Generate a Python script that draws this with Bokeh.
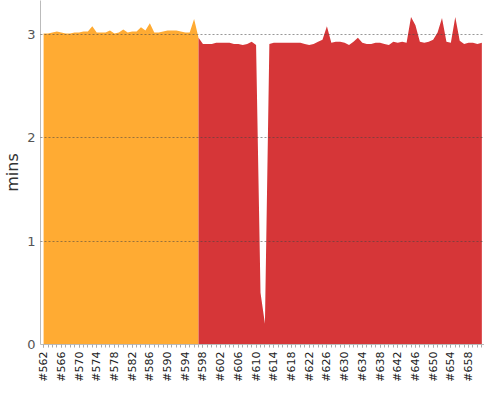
from bokeh.plotting import figure
from bokeh.models import Range1d, FixedTicker, PrintfTickFormatter
from bokeh.embed import file_html
from bokeh.resources import INLINE
import math

# builds #562 .. #597 (orange series)
orange_builds = list(range(562, 598))
orange_mins = [3.01, 3.01, 3.02, 3.03, 3.02, 3.01, 3.01, 3.02, 3.02, 3.03,
               3.03, 3.08, 3.02, 3.02, 3.02, 3.04, 3.01, 3.02, 3.05, 3.02,
               3.03, 3.03, 3.07, 3.04, 3.11, 3.02, 3.02, 3.03, 3.04, 3.04,
               3.04, 3.03, 3.02, 3.02, 3.15, 2.97]

# builds #597 .. #661 (red series)
red_builds = list(range(597, 662))
red_mins = [2.97, 2.91, 2.91, 2.91, 2.92, 2.92, 2.92, 2.92, 2.91, 2.91,
            2.90, 2.91, 2.93, 2.90, 0.50, 0.20, 2.91, 2.92, 2.92, 2.92,
            2.92, 2.92, 2.92, 2.92, 2.91, 2.90, 2.91, 2.93, 2.95, 3.08,
            2.92, 2.93, 2.93, 2.92, 2.90, 2.93, 2.97, 2.92, 2.91, 2.91,
            2.92, 2.92, 2.91, 2.90, 2.93, 2.92, 2.93, 2.92, 3.17, 3.09,
            2.93, 2.92, 2.93, 2.95, 3.02, 3.16, 2.93, 2.92, 3.17, 2.94,
            2.91, 2.92, 2.92, 2.91, 2.92]

major_ticks = list(range(562, 662, 4))
minor_ticks = list(range(562, 662))
y_ticks = [0, 1, 2, 3]

FONT = "DejaVu Sans"

p = figure(width=484, height=384, output_backend="svg", toolbar_location=None,
           x_range=Range1d(561.3, 661.6), y_range=Range1d(0, 3.33),
           min_border_top=0, min_border_right=0, min_border_left=0, min_border_bottom=0)
p.outline_line_color = None
p.background_fill_color = "white"
p.border_fill_color = "white"

p.varea(x=orange_builds, y1=0, y2=orange_mins, fill_color="#FFAB33")
p.varea(x=red_builds, y1=0, y2=red_mins, fill_color="#D63638")

p.xgrid.visible = False
p.ygrid.ticker = FixedTicker(ticks=[1, 2, 3])
p.ygrid.grid_line_color = "#444444"
p.ygrid.grid_line_alpha = 0.55
p.ygrid.grid_line_dash = "2 2"
p.ygrid.grid_line_width = 1
p.ygrid.level = "overlay"

xa = p.xaxis[0]
xa.ticker = FixedTicker(ticks=major_ticks, minor_ticks=minor_ticks)
xa.formatter = PrintfTickFormatter(format="#%d")
xa.major_label_orientation = math.pi / 2
xa.major_label_text_font = FONT
xa.major_label_text_font_size = "11px"
xa.major_label_text_color = "#222222"
xa.major_label_standoff = 4
xa.axis_line_color = "#bbbbbb"
xa.major_tick_line_color = "#aaaaaa"
xa.minor_tick_line_color = "#aaaaaa"
xa.major_tick_out = 3
xa.major_tick_in = 0
xa.minor_tick_out = 3
xa.minor_tick_in = 0

ya = p.yaxis[0]
ya.ticker = FixedTicker(ticks=y_ticks)
ya.axis_label = "mins"
ya.axis_label_text_font = FONT
ya.axis_label_text_font_style = "normal"
ya.axis_label_text_font_size = "16px"
ya.axis_label_text_color = "#333333"
ya.axis_label_standoff = 2
ya.major_label_text_font = FONT
ya.major_label_text_font_size = "13px"
ya.major_label_text_color = "#555555"
ya.major_label_standoff = 5
ya.axis_line_color = "#bbbbbb"
ya.major_tick_out = 0
ya.major_tick_in = 0
ya.minor_tick_line_color = None

open("out.html", "w").write(file_html(p, INLINE))
